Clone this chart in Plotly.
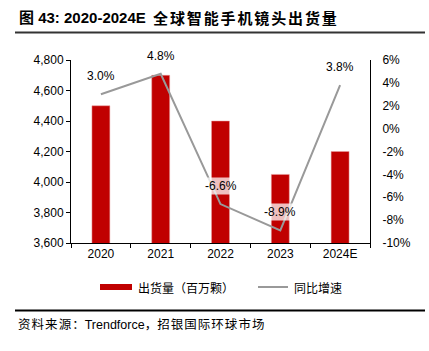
import plotly.graph_objects as go

years = ["2020", "2021", "2022", "2023", "2024E"]
shipments = [4500, 4700, 4400, 4050, 4200]
yoy = [3.0, 4.8, -6.6, -8.9, 3.8]
left_ticks = [3600, 3800, 4000, 4200, 4400, 4600, 4800]
right_ticks = [-10, -8, -6, -4, -2, 0, 2, 4, 6]

W, H = 429, 351
L, R, T, B = 71, 370, 60, 243

def px(x):
    return (x - L) / (R - L)

def py(y):
    return (B - y) / (B - T)

RED = "#C00000"
GRAY = "#999999"
FONT = "Liberation Sans, Arial, Noto Sans CJK SC"
CJK = "Noto Sans CJK SC"
HS = "\u200a"

fig = go.Figure()
fig.add_trace(go.Bar(x=years, y=shipments, marker=dict(color=RED, line=dict(color="#E8A0A0", width=0.5)),
                     width=0.3, name="出货量（百万颗）", yaxis="y"))
fig.add_trace(go.Scatter(x=years, y=yoy, mode="lines", line=dict(color=GRAY, width=2),
                         name="同比增速", yaxis="y2"))

annotations = []
for i, v in enumerate(yoy):
    annotations.append(dict(x=i, y=v, xref="x", yref="y2", text=f"{v:.1f}%", showarrow=False,
                            yshift=18, font=dict(family=FONT, size=12, color="#000"),
                            bgcolor="rgba(255,255,255,0.75)", borderpad=1))

# title
annotations.append(dict(x=px(17), y=py(18), xref="paper", yref="paper", xanchor="left", yanchor="middle",
                        text="<b>图 43: 2020-2024E</b>", showarrow=False,
                        font=dict(family="Liberation Sans, Noto Sans CJK SC", size=15, color="#000")))
annotations.append(dict(x=px(151), y=py(18), xref="paper", yref="paper", xanchor="left", yanchor="middle",
                        text="<b>" + (HS * 2).join("全球智能手机镜头出货量") + "</b>", showarrow=False,
                        font=dict(family="Noto Sans CJK SC", size=15, color="#000")))
# source
src = HS.join("资料来源：") + "Trendforce，" + HS.join("招银国际环球市场")
annotations.append(dict(x=px(16), y=py(324), xref="paper", yref="paper", xanchor="left", yanchor="middle",
                        text=src, showarrow=False,
                        font=dict(family="Liberation Sans, Noto Sans CJK SC", size=12.5, color="#000")))
# legend texts
annotations.append(dict(x=px(136), y=py(287), xref="paper", yref="paper", xanchor="left", yanchor="middle",
                        text="出货量（百万颗）", showarrow=False,
                        font=dict(family=CJK, size=12, color="#000")))
annotations.append(dict(x=px(292), y=py(287), xref="paper", yref="paper", xanchor="left", yanchor="middle",
                        text="同比增速", showarrow=False,
                        font=dict(family=CJK, size=12, color="#000")))

shapes = [
    dict(type="line", xref="paper", yref="paper", x0=px(15), x1=px(425), y0=py(32.5), y1=py(32.5),
         line=dict(color="#333", width=2)),
    dict(type="line", xref="paper", yref="paper", x0=px(15), x1=px(425), y0=py(310.5), y1=py(310.5),
         line=dict(color="#000", width=2)),
    dict(type="rect", xref="paper", yref="paper", x0=px(100), x1=px(132), y0=py(290), y1=py(284),
         fillcolor=RED, line=dict(width=0)),
    dict(type="line", xref="paper", yref="paper", x0=px(258), x1=px(288), y0=py(287), y1=py(287),
         line=dict(color=GRAY, width=2)),
]

fig.update_layout(
    width=W, height=H,
    margin=dict(l=L, r=W - R, t=T, b=H - B),
    paper_bgcolor="white", plot_bgcolor="white",
    showlegend=False,
    annotations=annotations,
    shapes=shapes,
    font=dict(family=FONT, size=12, color="#000"),
    xaxis=dict(type="category", range=[-0.5, 4.5], showline=True, linecolor="#000", linewidth=1,
               ticks="outside", tickson="boundaries", ticklen=4, tickcolor="#000",
               showgrid=False, tickfont=dict(family=FONT, size=12), tickangle=0),
    yaxis=dict(range=[3600, 4800], tickvals=left_ticks, tickformat=",", showline=True,
               linecolor="#000", linewidth=1, ticks="outside", ticklen=4, tickcolor="#000",
               showgrid=False, zeroline=False, tickfont=dict(family=FONT, size=12)),
    yaxis2=dict(range=[-10, 6], tickmode="array", tickvals=right_ticks,
                ticktext=[f"{v}%" for v in right_ticks], overlaying="y", side="right",
                showline=True, linecolor="#000", linewidth=1, ticks="outside", ticklen=9,
                tickcolor="rgba(0,0,0,0)", showgrid=False,
                zeroline=False, tickfont=dict(family=FONT, size=12)),
)

fig.write_html("out.html")
